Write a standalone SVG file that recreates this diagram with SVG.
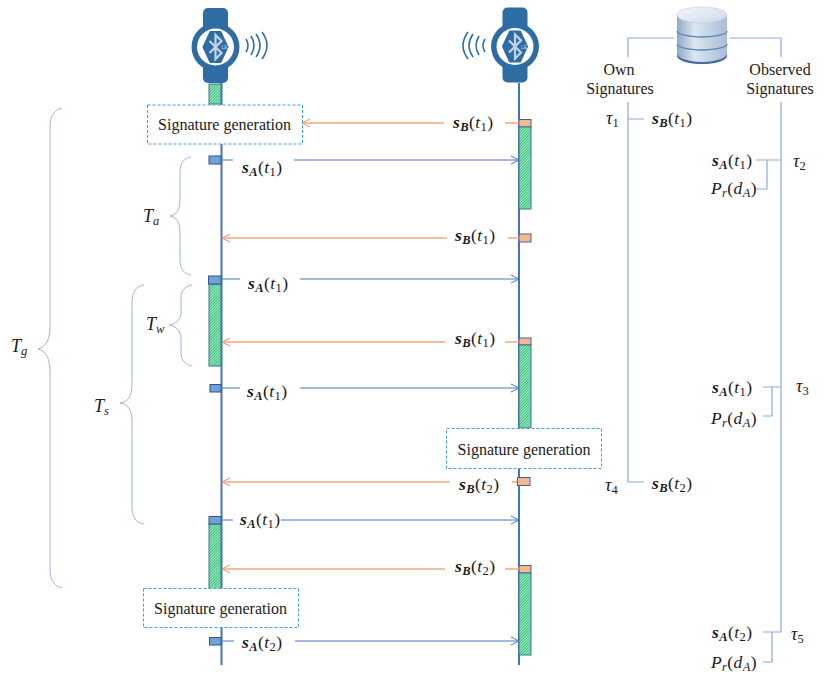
<svg xmlns="http://www.w3.org/2000/svg" xmlns:xlink="http://www.w3.org/1999/xlink" width="830" height="676" viewBox="0 0 830 676">
<style>
text{font-family:"Liberation Serif","Times New Roman",serif;fill:#1a1a1a}
.lbl{font-size:16px}
.m{font-size:17.5px;letter-spacing:.4px}
.t{font-size:18px;font-style:italic}
.i{font-style:italic}
.b{font-style:italic;font-weight:bold}
.bs{font-style:italic;font-weight:bold;font-size:12.5px}
.s{font-size:12.5px;font-style:normal}
.is{font-size:12.5px;font-style:italic}
.life{stroke:#4472c4;stroke-width:2;fill:none}
.blue{stroke:#4a76c6;stroke-width:1.2;fill:none}
.or{stroke:#f4a97c;stroke-width:1.3;fill:none}
.link{stroke:#8eaadb;stroke-width:1.2;fill:none}
.brace{stroke:#9db7e0;stroke-width:1;fill:none}
.gr{fill:url(#hatch);stroke:#41719c;stroke-width:1}
.bb{fill:#6fa3d6;stroke:#2f5597;stroke-width:1}
.ob{fill:#f6b98e;stroke:#44648f;stroke-width:1}
.box{fill:#fff;stroke:#3f9fdc;stroke-width:1;stroke-dasharray:3 2}
.wave{stroke:#2e6da4;stroke-width:1.6;fill:none}
</style>
<defs>
<pattern id="hatch" width="2" height="2" patternUnits="userSpaceOnUse" patternTransform="rotate(45)">
<rect width="2" height="2" fill="#35c47a"/><rect width=".8" height="2" fill="#c8f0d8"/>
</pattern>
<marker id="ab" markerWidth="10" markerHeight="10" refX="9" refY="5" orient="auto" markerUnits="userSpaceOnUse"><path d="M1 1L9 5L1 9" fill="none" stroke="#4a76c6" stroke-width="1"/></marker>
<marker id="ao" markerWidth="10" markerHeight="10" refX="9" refY="5" orient="auto" markerUnits="userSpaceOnUse"><path d="M1 1L9 5L1 9" fill="none" stroke="#f4915a" stroke-width="1"/></marker>
<linearGradient id="dbg" x1="0" x2="1" y1="0" y2="0"><stop offset="0" stop-color="#8fa9c9"/><stop offset=".35" stop-color="#dbe6f1"/><stop offset="1" stop-color="#a9bdd6"/></linearGradient>
<linearGradient id="dbt" x1="0" x2="1" y1="0" y2="1"><stop offset="0" stop-color="#f4f7fb"/><stop offset="1" stop-color="#cdd9e8"/></linearGradient>
<g id="watch">
<rect x="-12.5" y="-39" width="25" height="75" rx="5" fill="#2e6da4"/>
<circle r="24" fill="#2e6da4"/><circle r="18.5" fill="#fff"/>
<path d="M-5-15L5-15L12 0L5 15L-5 15L-12 0Z" fill="#2e6da4" stroke="#2e6da4" stroke-width="2" stroke-linejoin="round"/>
<path d="M-6-6L6 6L0 12L0-12L6-6L-6 6" fill="none" stroke="#c2d5e8" stroke-width="2.2"/>
<text x="6" y="2" style="font-size:5px;fill:#c2d5e8;font-family:'Liberation Sans',sans-serif">LE</text>
</g>
</defs>

<g id="lifelines">
<path class="life" d="M221.5 83V665"/>
<path class="life" d="M519 83V665"/>
</g>

<g id="activations-a">
<rect class="gr" x="209" y="84" width="12" height="20"/>
<rect class="bb" x="209" y="156" width="12" height="8"/>
<rect class="gr" x="209" y="284" width="12" height="82"/>
<rect class="bb" x="208.500" y="276" width="12.500" height="8"/>
<rect class="bb" x="210" y="384.500" width="11" height="7.500"/>
<rect class="gr" x="209" y="524" width="12" height="66"/>
<rect class="bb" x="209" y="516.500" width="12" height="7.500"/>
<rect class="bb" x="209.500" y="637.500" width="11.500" height="7.500"/>
</g>
<g id="activations-b">
<rect class="ob" x="519" y="119.500" width="12" height="7.500"/>
<rect class="gr" x="519" y="127" width="12" height="82"/>
<rect class="ob" x="519" y="234" width="12" height="8"/>
<rect class="ob" x="519" y="338" width="12" height="7"/>
<rect class="gr" x="519" y="345" width="12" height="83"/>
<rect class="ob" x="517.500" y="477.500" width="12.500" height="8"/>
<rect class="ob" x="519" y="565.500" width="12" height="7.500"/>
<rect class="gr" x="519" y="573" width="12" height="82"/>
</g>

<g id="connectors">
<path class="or" d="M519 123H505M444 123H302" marker-end="url(#ao)"/>
<path class="blue" d="M221 160H233M294 160H519" marker-end="url(#ab)"/>
<path class="or" d="M519 238H508M447 238H222" marker-end="url(#ao)"/>
<path class="blue" d="M221 279H240M300 279H519" marker-end="url(#ab)"/>
<path class="or" d="M519 342H505M445 342H222" marker-end="url(#ao)"/>
<path class="blue" d="M221 388H240M300 388H519" marker-end="url(#ab)"/>
<path class="or" d="M517 482H512M450 482H222" marker-end="url(#ao)"/>
<path class="blue" d="M221 520H233M281 520H519" marker-end="url(#ab)"/>
<path class="or" d="M519 569H505M445 569H222" marker-end="url(#ao)"/>
<path class="blue" d="M221 641H234M295 641H519" marker-end="url(#ab)"/>
<path class="link" d="M674 38H628V57M628 102V482H644M628 119H644"/>
<path class="link" d="M730 38H781V57M781 102V632H763M756 160H781M767 160V189H756M763 387H781M772 387V416H763M772 632V662H763"/>
</g>

<g id="watch-a">
<use xlink:href="#watch" href="#watch" transform="translate(215.500 47)"/>
<path class="wave" d="M246 39Q250 45.500 246 52M251 36Q257 45.500 251 55M256 34Q264 45.500 256 57M262 32Q272 45.500 262 59"/>
</g>
<g id="watch-b">
<use xlink:href="#watch" href="#watch" transform="translate(515 46.500)"/>
<path class="wave" d="M485 39Q481 45.500 485 52M479 36Q473 45.500 479 55M473 34Q465 45.500 473 57M468 32Q458 45.500 468 59"/>
</g>

<g id="database">
<path d="M677 15V53A25 9 0 0 0 727 53V15Z" fill="url(#dbg)"/>
<path d="M677 53A25 9 0 0 0 727 53L727 56A25 8 0 0 1 677 56Z" fill="#2f5f95" opacity=".9"/>
<ellipse cx="702" cy="15" rx="25" ry="8" fill="url(#dbt)" stroke="#b8c8da" stroke-width=".6"/>
<path d="M677 31A25 6 0 0 0 727 31M677 44A25 6 0 0 0 727 44" fill="none" stroke="#5c83b5" stroke-width="1.300"/>
</g>

<g id="sig-gen-a"><rect class="box" x="147.500" y="105" width="155" height="39"/><text class="lbl" x="224.500" y="130" text-anchor="middle">Signature generation</text></g>
<g id="sig-gen-b"><rect class="box" x="446.500" y="428.500" width="155" height="40"/><text class="lbl" x="524" y="455" text-anchor="middle">Signature generation</text></g>
<g id="sig-gen-c"><rect class="box" x="143.500" y="588.500" width="155" height="39"/><text class="lbl" x="220.500" y="614" text-anchor="middle">Signature generation</text></g>

<g id="braces">
<path class="brace" d="M62 108C54 110 50 116 50 128V325C50 340 46 347 38 349C46 351 50 358 50 373V568C50 580 54 586 62 588"/>
<path class="brace" d="M191 157C184 158 180 163 180 172V200C180 210 176 215 170 216C176 217 180 222 180 232V260C180 269 184 274 191 275"/>
<path class="brace" d="M192 285C185 286 181 291 181 298V312C181 320 176 324 169 325C176 326 181 331 181 339V353C181 360 185 365 192 366"/>
<path class="brace" d="M144 285C136 286 132 292 132 302V385C132 396 128 402 120 403C128 404 132 410 132 421V507C132 517 136 523 144 524"/>
</g>

<g id="periods">
<text class="t" x="11" y="352">T<tspan class="is" dy="3">g</tspan></text>
<text class="t" x="143" y="222">T<tspan class="is" dy="3">a</tspan></text>
<text class="t" x="146" y="330">T<tspan class="is" dy="3">w</tspan></text>
<text class="t" x="94" y="412">T<tspan class="is" dy="3">s</tspan></text>
</g>

<g id="messages">
<text class="m" x="453" y="128"><tspan class="b">s</tspan><tspan class="bs" dy="3">B</tspan><tspan dy="-3">(</tspan><tspan class="i">t</tspan><tspan class="s" dy="3">1</tspan><tspan dy="-3">)</tspan></text>
<text class="m" x="242" y="173"><tspan class="b">s</tspan><tspan class="bs" dy="3">A</tspan><tspan dy="-3">(</tspan><tspan class="i">t</tspan><tspan class="s" dy="3">1</tspan><tspan dy="-3">)</tspan></text>
<text class="m" x="455" y="241"><tspan class="b">s</tspan><tspan class="bs" dy="3">B</tspan><tspan dy="-3">(</tspan><tspan class="i">t</tspan><tspan class="s" dy="3">1</tspan><tspan dy="-3">)</tspan></text>
<text class="m" x="248" y="289"><tspan class="b">s</tspan><tspan class="bs" dy="3">A</tspan><tspan dy="-3">(</tspan><tspan class="i">t</tspan><tspan class="s" dy="3">1</tspan><tspan dy="-3">)</tspan></text>
<text class="m" x="455" y="344"><tspan class="b">s</tspan><tspan class="bs" dy="3">B</tspan><tspan dy="-3">(</tspan><tspan class="i">t</tspan><tspan class="s" dy="3">1</tspan><tspan dy="-3">)</tspan></text>
<text class="m" x="247" y="397"><tspan class="b">s</tspan><tspan class="bs" dy="3">A</tspan><tspan dy="-3">(</tspan><tspan class="i">t</tspan><tspan class="s" dy="3">1</tspan><tspan dy="-3">)</tspan></text>
<text class="m" x="459" y="490"><tspan class="b">s</tspan><tspan class="bs" dy="3">B</tspan><tspan dy="-3">(</tspan><tspan class="i">t</tspan><tspan class="s" dy="3">2</tspan><tspan dy="-3">)</tspan></text>
<text class="m" x="240" y="525"><tspan class="b">s</tspan><tspan class="bs" dy="3">A</tspan><tspan dy="-3">(</tspan><tspan class="i">t</tspan><tspan class="s" dy="3">1</tspan><tspan dy="-3">)</tspan></text>
<text class="m" x="455" y="572"><tspan class="b">s</tspan><tspan class="bs" dy="3">B</tspan><tspan dy="-3">(</tspan><tspan class="i">t</tspan><tspan class="s" dy="3">2</tspan><tspan dy="-3">)</tspan></text>
<text class="m" x="242" y="648"><tspan class="b">s</tspan><tspan class="bs" dy="3">A</tspan><tspan dy="-3">(</tspan><tspan class="i">t</tspan><tspan class="s" dy="3">2</tspan><tspan dy="-3">)</tspan></text>
</g>

<g id="store-headings">
<text class="lbl" x="619" y="75" text-anchor="middle">Own</text>
<text class="lbl" x="620" y="94" text-anchor="middle">Signatures</text>
<text class="lbl" x="780" y="75" text-anchor="middle">Observed</text>
<text class="lbl" x="780" y="94" text-anchor="middle">Signatures</text>
</g>

<g id="own-entries">
<text class="t" x="606" y="124">τ<tspan class="s" dy="3">1</tspan></text>
<text class="m" x="652" y="124"><tspan class="b">s</tspan><tspan class="bs" dy="3">B</tspan><tspan dy="-3">(</tspan><tspan class="i">t</tspan><tspan class="s" dy="3">1</tspan><tspan dy="-3">)</tspan></text>
<text class="t" x="605" y="491">τ<tspan class="s" dy="3">4</tspan></text>
<text class="m" x="652" y="489"><tspan class="b">s</tspan><tspan class="bs" dy="3">B</tspan><tspan dy="-3">(</tspan><tspan class="i">t</tspan><tspan class="s" dy="3">2</tspan><tspan dy="-3">)</tspan></text>
</g>

<g id="observed-entries">
<text class="t" x="793" y="167">τ<tspan class="s" dy="3">2</tspan></text>
<text class="m" x="712" y="166"><tspan class="b">s</tspan><tspan class="bs" dy="3">A</tspan><tspan dy="-3">(</tspan><tspan class="i">t</tspan><tspan class="s" dy="3">1</tspan><tspan dy="-3">)</tspan></text>
<text class="m" x="711" y="194"><tspan class="i">P</tspan><tspan class="is" dy="3">r</tspan><tspan dy="-3">(</tspan><tspan class="i">d</tspan><tspan class="is" dy="3">A</tspan><tspan dy="-3">)</tspan></text>
<text class="t" x="796" y="392">τ<tspan class="s" dy="3">3</tspan></text>
<text class="m" x="712" y="393"><tspan class="b">s</tspan><tspan class="bs" dy="3">A</tspan><tspan dy="-3">(</tspan><tspan class="i">t</tspan><tspan class="s" dy="3">1</tspan><tspan dy="-3">)</tspan></text>
<text class="m" x="711" y="424"><tspan class="i">P</tspan><tspan class="is" dy="3">r</tspan><tspan dy="-3">(</tspan><tspan class="i">d</tspan><tspan class="is" dy="3">A</tspan><tspan dy="-3">)</tspan></text>
<text class="t" x="791" y="640">τ<tspan class="s" dy="3">5</tspan></text>
<text class="m" x="712" y="638"><tspan class="b">s</tspan><tspan class="bs" dy="3">A</tspan><tspan dy="-3">(</tspan><tspan class="i">t</tspan><tspan class="s" dy="3">2</tspan><tspan dy="-3">)</tspan></text>
<text class="m" x="711" y="668"><tspan class="i">P</tspan><tspan class="is" dy="3">r</tspan><tspan dy="-3">(</tspan><tspan class="i">d</tspan><tspan class="is" dy="3">A</tspan><tspan dy="-3">)</tspan></text>
</g>
</svg>
